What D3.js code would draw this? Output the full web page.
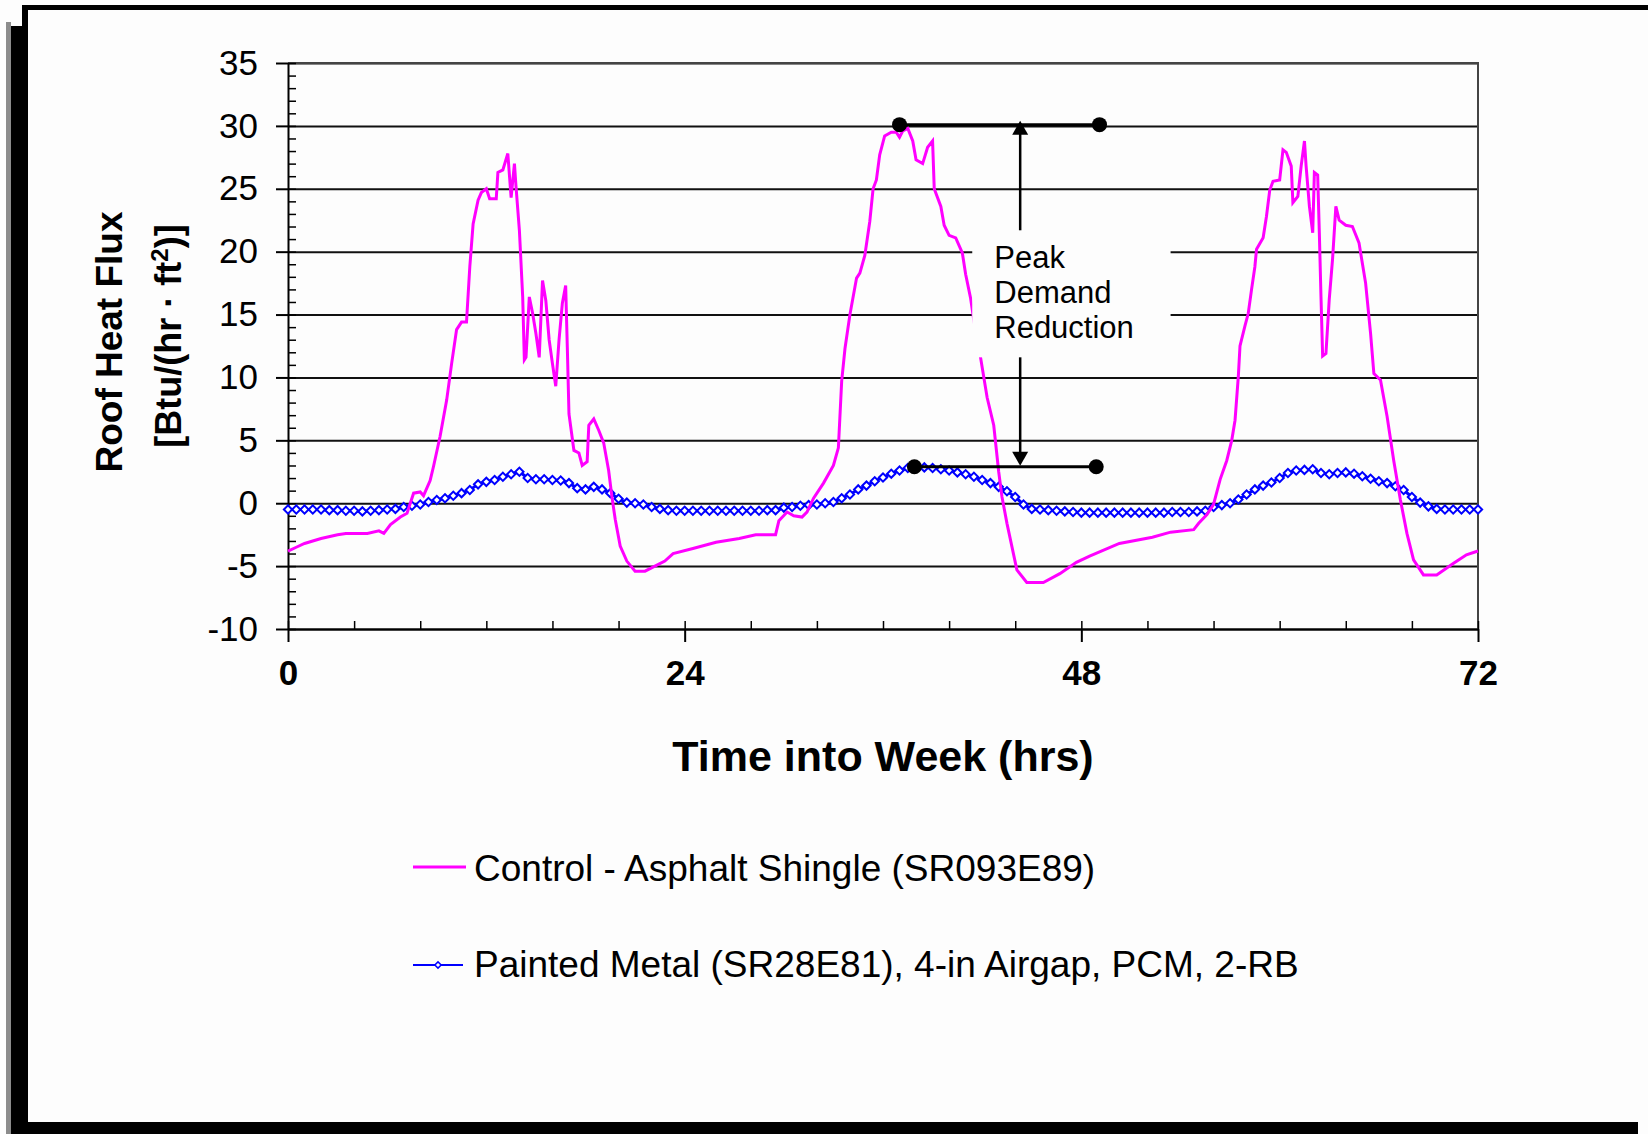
<!DOCTYPE html>
<html>
<head>
<meta charset="utf-8">
<script src="https://cdn.jsdelivr.net/npm/d3@7"></script>
<style>
    body { margin: 0; background: #fff; }
    text { font-family: "Liberation Sans", Arial, sans-serif; }
</style>
</head>
<body>
<div id="chart"></div>
<script>
// roof heat flux
let controlHours = [0.0, 0.5, 1.0, 2.0, 3.0, 3.5, 4.8, 5.5, 5.8, 6.2, 6.8, 7.2, 7.6, 8.0, 8.2, 8.6, 8.8, 9.2, 9.6, 9.9,
    10.2, 10.5, 10.8, 11.0, 11.2, 11.5, 11.7, 12.0, 12.2, 12.6, 12.7, 13.0, 13.3, 13.5, 13.7, 13.8, 14.0, 14.2, 14.3, 14.4,
    14.6, 14.8, 15.0, 15.2, 15.4, 15.6, 15.8, 16.0, 16.2, 16.4, 16.6, 16.8, 16.9, 17.0, 17.3, 17.6, 17.8, 18.1, 18.2, 18.5,
    18.8, 19.1, 19.4, 19.6, 19.8, 20.1, 20.5, 21.0, 21.6, 22.2, 22.8, 23.3, 24.5, 25.9, 27.3, 28.3, 29.5, 29.7, 30.2, 30.6,
    31.1, 31.4, 31.8, 32.4, 33.0, 33.3, 33.5, 33.7, 34.0, 34.4, 34.6, 34.9, 35.2, 35.4, 35.6, 35.8, 36.1, 36.5, 36.8, 37.0,
    37.2, 37.5, 37.8, 38.0, 38.4, 38.7, 39.0, 39.1, 39.5, 39.7, 40.0, 40.4, 40.8, 41.0, 41.3, 41.5, 41.9, 42.3, 42.7, 43.0,
    43.2, 43.5, 44.1, 44.7, 45.7, 46.7, 47.7, 48.5, 50.3, 52.3, 53.4, 54.8, 55.1, 55.6, 56.0, 56.4, 56.8, 57.1, 57.3, 57.5,
    57.6, 57.9, 58.1, 58.3, 58.5, 58.6, 59.0, 59.2, 59.4, 59.6, 60.0, 60.2, 60.4, 60.7, 60.8, 61.1, 61.3, 61.5, 61.6, 61.8,
    62.0, 62.1, 62.3, 62.4, 62.5, 62.6, 62.8, 63.0, 63.2, 63.4, 63.6, 64.0, 64.4, 64.8, 65.2, 65.5, 65.7, 66.1, 66.5, 66.9,
    67.3, 67.7, 68.1, 68.7, 69.5, 70.5, 71.3, 72.0];
let controlFlux = [-3.8, -3.5, -3.2, -2.8, -2.5, -2.4, -2.4, -2.2, -2.4, -1.7, -1.1, -0.8, 0.8, 0.9, 0.6, 1.8, 2.9, 5.3, 8.2, 11.1,
    13.8, 14.4, 14.4, 18.8, 22.2, 24.1, 24.7, 25.0, 24.2, 24.2, 26.3, 26.5, 27.8, 24.3, 27.0, 25.1, 21.7, 16.4, 11.4, 11.6,
    16.4, 15.1, 13.5, 11.6, 17.7, 16.1, 13.0, 11.1, 9.3, 13.0, 15.9, 17.3, 12.4, 7.1, 4.2, 4.0, 3.0, 3.3, 6.2, 6.7,
    5.8, 4.8, 2.6, 0.5, -1.3, -3.4, -4.6, -5.4, -5.4, -5.0, -4.6, -4.0, -3.6, -3.1, -2.8, -2.5, -2.5, -1.4, -0.7, -1.0,
    -1.1, -0.7, 0.4, 1.6, 3.0, 4.4, 9.7, 12.3, 15.0, 17.9, 18.3, 19.7, 22.4, 25.0, 25.7, 27.7, 29.2, 29.5, 29.5, 29.1,
    29.6, 29.8, 28.8, 27.3, 27.0, 28.3, 28.8, 25.0, 23.6, 22.1, 21.3, 21.1, 19.9, 18.2, 16.3, 14.5, 11.6, 8.4, 6.2, 2.5,
    0.5, -1.6, -5.3, -6.3, -6.3, -5.6, -4.7, -4.2, -3.2, -2.7, -2.3, -2.1, -1.6, -0.9, -0.1, 1.9, 3.4, 5.0, 6.6, 10.1,
    12.5, 14.1, 15.1, 17.0, 18.8, 20.2, 21.1, 22.8, 24.9, 25.6, 25.7, 28.1, 27.9, 26.8, 23.9, 24.4, 26.8, 28.8, 26.8, 23.6,
    21.5, 26.3, 26.1, 21.5, 16.4, 11.7, 11.9, 16.2, 19.4, 23.6, 22.5, 22.1, 22.0, 20.7, 17.5, 13.5, 10.3, 9.8, 6.9, 3.4,
    0.3, -2.4, -4.5, -5.7, -5.7, -4.8, -4.1, -3.8];

// painted metal, one reading every half hour
let metalHours = d3.range(0, 72.25, 0.5);
let metalFlux = [-0.5, -0.5, -0.5, -0.5, -0.5, -0.55,
    -0.55, -0.6, -0.6, -0.65, -0.6, -0.55,
    -0.5, -0.45, -0.3, -0.2, -0.1, 0.1,
    0.25, 0.4, 0.6, 0.8, 1.05, 1.5,
    1.7, 1.85, 2.1, 2.3, 2.5, 2.0,
    1.9, 1.9, 1.85, 1.8, 1.6, 1.2,
    1.1, 1.3, 1.1, 0.8, 0.35, 0.05,
    0.0, -0.1, -0.3, -0.45, -0.55, -0.6,
    -0.6, -0.6, -0.6, -0.6, -0.6, -0.6,
    -0.6, -0.6, -0.6, -0.6, -0.55, -0.55,
    -0.35, -0.3, -0.2, -0.15, -0.1, 0.0,
    0.1, 0.4, 0.7, 1.1, 1.4, 1.75,
    2.05, 2.35, 2.6, 2.8, 2.85, 2.85,
    2.8, 2.7, 2.6, 2.45, 2.3, 2.1,
    1.85, 1.6, 1.3, 0.95, 0.5, -0.1,
    -0.45, -0.5, -0.55, -0.6, -0.65, -0.7,
    -0.75, -0.75, -0.75, -0.75, -0.75, -0.75,
    -0.75, -0.75, -0.75, -0.75, -0.75, -0.7,
    -0.7, -0.7, -0.65, -0.6, -0.3, -0.15,
    0.0, 0.3, 0.7, 1.1, 1.4, 1.65,
    2.0, 2.4, 2.6, 2.65, 2.7, 2.4,
    2.3, 2.4, 2.45, 2.35, 2.15, 1.95,
    1.75, 1.6, 1.35, 1.05, 0.5, 0.05,
    -0.25, -0.45, -0.5, -0.5, -0.5, -0.5,
    -0.5];

let xTicks = [0, 24, 48, 72];
let xMinorTicks = [0, 4, 8, 12, 16, 20, 24, 28, 32, 36, 40, 44, 48, 52, 56, 60, 64, 68, 72];
let yTicks = [-10, -5, 0, 5, 10, 15, 20, 25, 30, 35];
let yMinorTicks = d3.range(-10, 36, 1);

let legendLabels = ['Control - Asphalt Shingle (SR093E89)', 'Painted Metal (SR28E81), 4-in Airgap, PCM, 2-RB'];
let noteLines = ['Peak', 'Demand', 'Reduction'];

// peak markers: [start hour, end hour], flux level
let controlPeakHours = [37.0, 49.1];
let controlPeakFlux = 30.1;
let metalPeakHours = [37.9, 48.9];
let metalPeakFlux = 2.9;
let arrowHour = 44.3;

//Setting up chart
let svgWidth = 1648;
let svgHeight = 1134;

let margin = {
    top: 63,
    right: 170,
    bottom: 505,
    left: 288
};

let width = svgWidth - margin.left - margin.right;
let height = svgHeight - margin.top - margin.bottom;

let svg = d3.select('#chart')
    .append('svg')
    .attr('width', svgWidth)
    .attr('height', svgHeight);

svg.append('rect')
    .attr('width', svgWidth)
    .attr('height', svgHeight)
    .attr('fill', '#fdfdfd');

// frame with its shadow
svg.append('rect').attr('x', 6).attr('y', 22).attr('width', 5).attr('height', svgHeight - 22).attr('fill', '#8c8c8c');
svg.append('rect').attr('x', 11).attr('y', 26).attr('width', 17).attr('height', svgHeight - 26).attr('fill', '#000');
svg.append('rect').attr('x', 22).attr('y', 5).attr('width', 6).attr('height', 30).attr('fill', '#000');
svg.append('rect').attr('x', 22).attr('y', 5).attr('width', svgWidth - 22).attr('height', 5).attr('fill', '#000');
svg.append('rect').attr('x', 11).attr('y', 1122).attr('width', 1627).attr('height', 12).attr('fill', '#000');

let chartGroup = svg.append('g')
    .attr('transform', `translate(${margin.left}, ${margin.top})`);

let xLinearScale = d3.scaleLinear()
    .domain([0, 72])
    .range([0, width]);

let yLinearScale = d3.scaleLinear()
    .domain([-10, 35])
    .range([height, 0]);

//grid lines
chartGroup.append('g')
    .call(d3.axisLeft(yLinearScale).tickValues(yTicks).tickSize(-width).tickFormat(''))
    .call(g => g.select('.domain').remove())
    .selectAll('line')
    .attr('stroke', '#111')
    .attr('stroke-width', 2);

// plot border top and right
chartGroup.append('path')
    .attr('d', `M0,0H${width}V${height}`)
    .attr('fill', 'none')
    .attr('stroke', '#444')
    .attr('stroke-width', 2);

//minor ticks inside
chartGroup.append('g')
    .call(d3.axisRight(yLinearScale).tickValues(yMinorTicks).tickSize(8).tickFormat('').tickSizeOuter(0))
    .call(g => g.select('.domain').remove())
    .selectAll('line').attr('stroke', '#000').attr('stroke-width', 1.5);

chartGroup.append('g')
    .attr('transform', `translate(0, ${height})`)
    .call(d3.axisTop(xLinearScale).tickValues(xMinorTicks).tickSize(8).tickFormat('').tickSizeOuter(0))
    .call(g => g.select('.domain').remove())
    .selectAll('line').attr('stroke', '#000').attr('stroke-width', 1.5);

//left axis
let leftAxis = chartGroup.append('g')
    .call(d3.axisLeft(yLinearScale).tickValues(yTicks).tickSize(12).tickPadding(18).tickSizeOuter(0)
        .tickFormat(d => String(d)));

leftAxis.selectAll('line').attr('stroke', '#000').attr('stroke-width', 2);
leftAxis.select('.domain').attr('stroke', '#000').attr('stroke-width', 2);
leftAxis.selectAll('text')
    .attr('font-size', 35)
    .attr('font-family', '"Liberation Sans", Arial, sans-serif')
    .attr('fill', '#000');

//bottom axis
let bottomAxis = chartGroup.append('g')
    .attr('transform', `translate(0, ${height})`)
    .call(d3.axisBottom(xLinearScale).tickValues(xTicks).tickSize(13).tickPadding(18).tickSizeOuter(0));

bottomAxis.selectAll('line').attr('stroke', '#000').attr('stroke-width', 2);
bottomAxis.select('.domain').attr('stroke', '#000').attr('stroke-width', 2);
bottomAxis.selectAll('text')
    .attr('font-size', 35)
    .attr('font-weight', 'bold')
    .attr('font-family', '"Liberation Sans", Arial, sans-serif')
    .attr('fill', '#000');

// series
let controlLine = d3.line()
    .x((d, i) => xLinearScale(controlHours[i]))
    .y(d => yLinearScale(d));

let metalLine = d3.line()
    .x((d, i) => xLinearScale(metalHours[i]))
    .y(d => yLinearScale(d));

chartGroup.append('path')
    .datum(metalFlux)
    .attr('d', metalLine)
    .attr('fill', 'none')
    .attr('stroke', '#0000ff')
    .attr('stroke-width', 3);

chartGroup.append('g')
    .selectAll('path')
    .data(metalFlux)
    .join('path')
    .attr('d', d3.symbol(d3.symbolSquare, 34))
    .attr('transform', (d, i) => `translate(${xLinearScale(metalHours[i])}, ${yLinearScale(d)}) rotate(45)`)
    .attr('fill', '#fff')
    .attr('stroke', '#0000ff')
    .attr('stroke-width', 2);

chartGroup.append('path')
    .datum(controlFlux)
    .attr('d', controlLine)
    .attr('fill', 'none')
    .attr('stroke', '#ff00ff')
    .attr('stroke-width', 3)
    .attr('stroke-linejoin', 'miter');

// peak demand annotation
let peaks = [
    {hours: controlPeakHours, flux: controlPeakFlux},
    {hours: metalPeakHours, flux: metalPeakFlux}
];

chartGroup.selectAll('.peak-line')
    .data(peaks)
    .join('line')
    .attr('class', 'peak-line')
    .attr('x1', d => xLinearScale(d.hours[0]))
    .attr('x2', d => xLinearScale(d.hours[1]))
    .attr('y1', d => yLinearScale(d.flux))
    .attr('y2', d => yLinearScale(d.flux))
    .attr('stroke', '#000')
    .attr('stroke-width', 3);

chartGroup.selectAll('.peak-dot')
    .data(peaks.flatMap(p => p.hours.map(h => ({hour: h, flux: p.flux}))))
    .join('circle')
    .attr('class', 'peak-dot')
    .attr('cx', d => xLinearScale(d.hour))
    .attr('cy', d => yLinearScale(d.flux))
    .attr('r', 7.5)
    .attr('fill', '#000');

let ax = xLinearScale(arrowHour);
let yTop = yLinearScale(controlPeakFlux) - 4;
let yBottom = yLinearScale(metalPeakFlux) - 1;

chartGroup.append('line')
    .attr('x1', ax).attr('x2', ax)
    .attr('y1', yTop + 12).attr('y2', yBottom - 12)
    .attr('stroke', '#000')
    .attr('stroke-width', 2.5);

chartGroup.append('path')
    .attr('d', `M${ax},${yTop}L${ax - 8},${yTop + 14}L${ax + 8},${yTop + 14}Z`)
    .attr('fill', '#000');

chartGroup.append('path')
    .attr('d', `M${ax},${yBottom}L${ax - 8},${yBottom - 14}L${ax + 8},${yBottom - 14}Z`)
    .attr('fill', '#000');

// white box behind the note
chartGroup.append('rect')
    .attr('x', xLinearScale(41.4))
    .attr('y', yLinearScale(21.7))
    .attr('width', xLinearScale(53.4) - xLinearScale(41.4))
    .attr('height', yLinearScale(11.6) - yLinearScale(21.7))
    .attr('fill', '#fdfdfd');

chartGroup.append('g')
    .selectAll('text')
    .data(noteLines)
    .join('text')
    .attr('x', xLinearScale(41.4) + 22)
    .attr('y', (d, i) => yLinearScale(21.7) + 38 + i * 35)
    .attr('font-size', 31)
    .attr('fill', '#000')
    .text(d => d);

// axis titles
svg.append('text')
    .attr('x', margin.left + width / 2)
    .attr('y', 771)
    .attr('text-anchor', 'middle')
    .attr('font-size', 43)
    .attr('font-weight', 'bold')
    .text('Time into Week (hrs)');

svg.append('text')
    .attr('transform', 'translate(122, 342) rotate(-90)')
    .attr('text-anchor', 'middle')
    .attr('font-size', 37)
    .attr('font-weight', 'bold')
    .text('Roof Heat Flux');

let unitLabel = svg.append('text')
    .attr('transform', 'translate(181, 336) rotate(-90)')
    .attr('text-anchor', 'middle')
    .attr('font-size', 36)
    .attr('font-weight', 'bold');

unitLabel.append('tspan').text('[Btu/(hr \u00b7 ft');
unitLabel.append('tspan').attr('dy', -13).attr('font-size', 24).text('2');
unitLabel.append('tspan').attr('dy', 13).text(')]');

// legend
let legend = svg.append('g');

legend.append('line')
    .attr('x1', 413).attr('x2', 466)
    .attr('y1', 867).attr('y2', 867)
    .attr('stroke', '#ff00ff')
    .attr('stroke-width', 3);

legend.append('line')
    .attr('x1', 413).attr('x2', 463)
    .attr('y1', 965).attr('y2', 965)
    .attr('stroke', '#0000ff')
    .attr('stroke-width', 2);

legend.append('path')
    .attr('d', d3.symbol(d3.symbolSquare, 20))
    .attr('transform', 'translate(438, 965) rotate(45)')
    .attr('fill', '#fff')
    .attr('stroke', '#0000ff')
    .attr('stroke-width', 1.5);

legend.selectAll('text')
    .data(legendLabels)
    .join('text')
    .attr('x', 474)
    .attr('y', (d, i) => 881 + i * 96)
    .attr('font-size', 37)
    .attr('fill', '#000')
    .text(d => d);
</script>
</body>
</html>
